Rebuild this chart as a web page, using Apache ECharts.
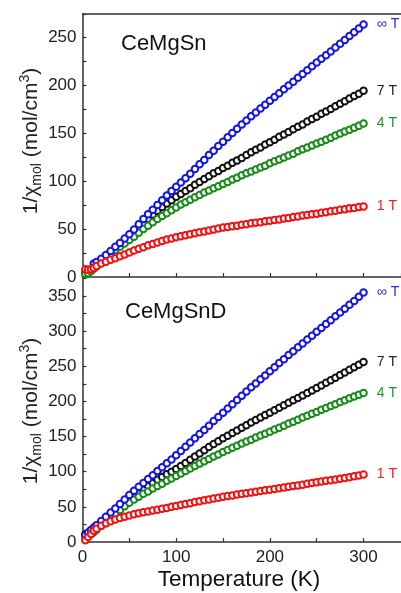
<!DOCTYPE html>
<html><head><meta charset="utf-8">
<script src="https://cdn.jsdelivr.net/npm/echarts@6/dist/echarts.min.js"></script>
<style>html,body{margin:0;padding:0;background:#fff}#c{width:401px;height:593px}</style>
</head><body><div id="c"></div>
<script>
const T = [3,6,9,12,15,20,25,30,35,40,45,50,55,60,65,70,75,80,85,90,95,100,105,110,115,120,125,130,135,140,145,150,155,160,165,170,175,180,185,190,195,200,205,210,215,220,225,230,235,240,245,250,255,260,265,270,275,280,285,290,295,300];

// CeMgSn (top panel)
const topInf = [null,null,null,14,15.5,19,23,27,31.5,35.5,40,44.5,49.5,55,60.5,65.5,70,75,80,85,89.5,94,98.5,103,107.5,112.5,117.5,122,127,131.5,136.5,141,145.5,150,154.5,159,163,167.5,171.5,175.5,179.5,183.5,187.5,191.5,195.5,199.5,203.5,207.5,211.5,215.5,219.5,223.5,227.5,231,235,239,243,247,251,255,259,263];
const top7T = [5,5.5,7,9.5,12.5,17,21,25,29,33,37,41.5,46,50.5,55,60.5,65,69,73,76.5,80,83.5,86.5,89.5,92.5,96,99,102,105,108,110.5,113.5,116,119,121.5,124,127,130,132.5,135,138,140.5,143,146,148.5,151,154,156.5,159,162,164.5,167,170,172.5,175,178,180.5,183,186,188.5,191,194];
const top4T = [3,4,6,8.5,11,15,19.5,24,28,31.5,35,38.5,42,46,50,53.5,57,60.5,63.5,66.5,69.5,72.5,75.5,78,80.5,83,85.5,88,90,92.5,94.5,97,99,101.5,103.5,106,108,110,112,114,116,118.5,120.5,122.5,124.5,126.5,128.5,131,133,135,137,139,141,143,145,147.5,149.5,151.5,153.5,155.5,157.5,160];
const top1T = [8,7.5,8,9.5,11.5,14,16,18,19.5,21.5,23.5,25.5,27.5,29.5,31,33,34.5,36,37.5,39,40,41.5,42.5,43.5,44.5,45.5,46.5,47.5,48.5,49.5,50.5,51.5,52,53,53.5,54.5,55,56,56.5,57,58,58.5,59.5,60,61,61.5,62.5,63,64,64.5,65.5,66,67,67.5,68.5,69,70,70.5,71.5,72,73,73.5];

// CeMgSnD (bottom panel)
const botInf = [10,13.5,17,20.5,24,30,36,42,47.5,54,60.5,67,73,78.5,84,89.5,95,101,106.5,112,117.5,123.5,129.5,135.5,141.5,147.5,153.5,159.5,165.5,172,178,184,190,196,202,208,214,220,225.5,231.5,237,243,248.5,254.5,260,266,271.5,277,282.5,288,293.5,299,304.5,310,315.5,321,326.5,332,337.5,343,349,355];
const bot7T = [11,12.5,15,17.5,20.5,25.5,31,37,42.5,48,53.5,59,64,69,74.5,79.5,84,88.5,92.5,96.5,100,104,108,112.5,117,121.5,126,130.5,135,139.5,143.5,147.5,151,155,158.5,162.5,166,170,173.5,177,180.5,184,187.5,191,194.5,198,201.5,205,208.5,212,215.5,219,222.5,226.5,230,233.5,237.5,241,245,248.5,252,256];
const bot4T = [6,8,11,14,17.5,23,28.5,34.5,40,45.5,51,56,60.5,64.5,68.5,72,76,79.5,83,87,90.5,94,97.5,101,104.5,108,111.5,115,118,121.5,124.5,128,131,134,137,140,143,145.5,148.5,151.5,154,157,160,162.5,165.5,168.5,171,174,177,179.5,182.5,185,188,190.5,193.5,196,199,201.5,204.5,207,209.5,212];
const bot1T = [2.5,7,11.5,16,19,23,26.5,29.5,32,34,36,37.8,39.5,41,42.3,43.5,44.8,46,47.3,48.5,50,51.3,52.5,54,55.3,56.8,58,59.3,60.5,62,63,64.3,65.3,66.3,67.5,68.5,69.5,70.5,71.5,72.5,73.5,74.5,75.5,76.5,77.5,78.5,79.5,80.5,81.5,83,84,85,86,87,88,89,90,91,92,93.5,94.5,96];

const xTicks = [0,100,200,300];
const topYTicks = [0,50,100,150,200,250];
const botYTicks = [0,50,100,150,200,250,300,350];
const fieldLabels = ['∞ T','7 T','4 T','1 T'];

const FONT = 'Liberation Sans, Arial, sans-serif';
const C = {inf:'#1414e8', t7:'#111111', t4:'#168a16', t1:'#f21010'};
const LC = {inf:'#2b2bd8', t7:'#222222', t4:'#2d8f2d', t1:'#e52222'};

function mk(vals, color, lcolor, label, xi, yi, z) {
  const data = [];
  T.forEach((t, i) => { if (vals[i] != null) data.push([t, vals[i]]); });
  const last = data.length - 1;
  const d = data.map((p, i) => i === last ? {value: p, label: {show: true, formatter: label, position: 'right', distance: 9, color: lcolor, fontSize: 14, fontFamily: FONT}} : p);
  return {type: 'scatter', xAxisIndex: xi, yAxisIndex: yi, data: d, symbol: 'circle', symbolSize: 6.5, z: z,
    itemStyle: {color: '#ffffff', borderColor: color, borderWidth: 2, opacity: 1}, emphasis: {disabled: true}, animation: false};
}

const axLine = {show: true, lineStyle: {color: '#333', width: 1.5}};
const tick = {show: true, inside: true, length: 4, lineStyle: {color: '#333', width: 1.2}};
const lab = {color: '#222', fontSize: 17, fontFamily: FONT};

const chart = echarts.init(document.getElementById('c'), null, {renderer: 'canvas'});
chart.setOption({
  animation: false,
  backgroundColor: '#fff',
  grid: [
    {left: 82.5, top: 14, width: 318.5, height: 263},
    {left: 82.5, top: 277, width: 318.5, height: 265}
  ],
  xAxis: [
    {gridIndex: 0, type: 'value', min: 0, max: 340, interval: 50, axisLine: axLine, axisTick: tick, axisLabel: {show: false}, splitLine: {show: false}},
    {gridIndex: 0, type: 'value', position: 'top', min: 0, max: 340, interval: 50, axisLine: axLine, axisTick: {show: false}, axisLabel: {show: false}, splitLine: {show: false}},
    {gridIndex: 1, type: 'value', min: 0, max: 340, interval: 50, axisLine: axLine, axisTick: tick, splitLine: {show: false},
      axisLabel: Object.assign({margin: 7, showMaxLabel: false, formatter: v => xTicks.includes(v) ? String(v) : ''}, lab)}
  ],
  yAxis: [
    {gridIndex: 0, type: 'value', min: 0, max: 274, interval: 25, axisLine: axLine, axisTick: tick, splitLine: {show: false},
      axisLabel: Object.assign({margin: 6, formatter: v => topYTicks.includes(v) ? String(v) : ''}, lab)},
    {gridIndex: 1, type: 'value', min: 0, max: 377, interval: 25, axisLine: axLine, axisTick: tick, splitLine: {show: false},
      axisLabel: Object.assign({margin: 6, formatter: v => botYTicks.includes(v) ? String(v) : ''}, lab)}
  ],
  series: [
    mk(top7T, C.t7, LC.t7, fieldLabels[1], 0, 0, 2),
    mk(top4T, C.t4, LC.t4, fieldLabels[2], 0, 0, 3),
    mk(topInf, C.inf, LC.inf, fieldLabels[0], 0, 0, 4),
    mk(top1T, C.t1, LC.t1, fieldLabels[3], 0, 0, 5),
    mk(bot7T, C.t7, LC.t7, fieldLabels[1], 2, 1, 2),
    mk(bot4T, C.t4, LC.t4, fieldLabels[2], 2, 1, 3),
    mk(botInf, C.inf, LC.inf, fieldLabels[0], 2, 1, 4),
    mk(bot1T, C.t1, LC.t1, fieldLabels[3], 2, 1, 5)
  ],
  graphic: [
    {type: 'text', left: 121, top: 33, style: {text: 'CeMgSn', fill: '#111', font: '22px ' + FONT}},
    {type: 'text', left: 125, top: 301, style: {text: 'CeMgSnD', fill: '#111', font: '22px ' + FONT}},
    {type: 'text', x: 239, y: 580, style: {text: 'Temperature (K)', fill: '#111', font: '22.5px ' + FONT, align: 'center', verticalAlign: 'middle'}},
    {type: 'text', x: 31, y: 141, rotation: Math.PI / 2, style: {
      text: '{a|1/χ}{s|mol}{a| (mol/cm}{p|3}{a|)}', align: 'center', verticalAlign: 'middle', fill: '#222',
      rich: {
        a: {fontSize: 21, fontFamily: FONT, lineHeight: 26, verticalAlign: 'middle', fill: '#222'},
        s: {fontSize: 14, fontFamily: FONT, lineHeight: 12, verticalAlign: 'bottom', fill: '#222'},
        p: {fontSize: 14, fontFamily: FONT, lineHeight: 12, verticalAlign: 'top', fill: '#222'}
      }}},
    {type: 'text', x: 31, y: 411, rotation: Math.PI / 2, style: {
      text: '{a|1/χ}{s|mol}{a| (mol/cm}{p|3}{a|)}', align: 'center', verticalAlign: 'middle', fill: '#222',
      rich: {
        a: {fontSize: 21, fontFamily: FONT, lineHeight: 26, verticalAlign: 'middle', fill: '#222'},
        s: {fontSize: 14, fontFamily: FONT, lineHeight: 12, verticalAlign: 'bottom', fill: '#222'},
        p: {fontSize: 14, fontFamily: FONT, lineHeight: 12, verticalAlign: 'top', fill: '#222'}
      }}}
  ]
});
</script></body></html>
